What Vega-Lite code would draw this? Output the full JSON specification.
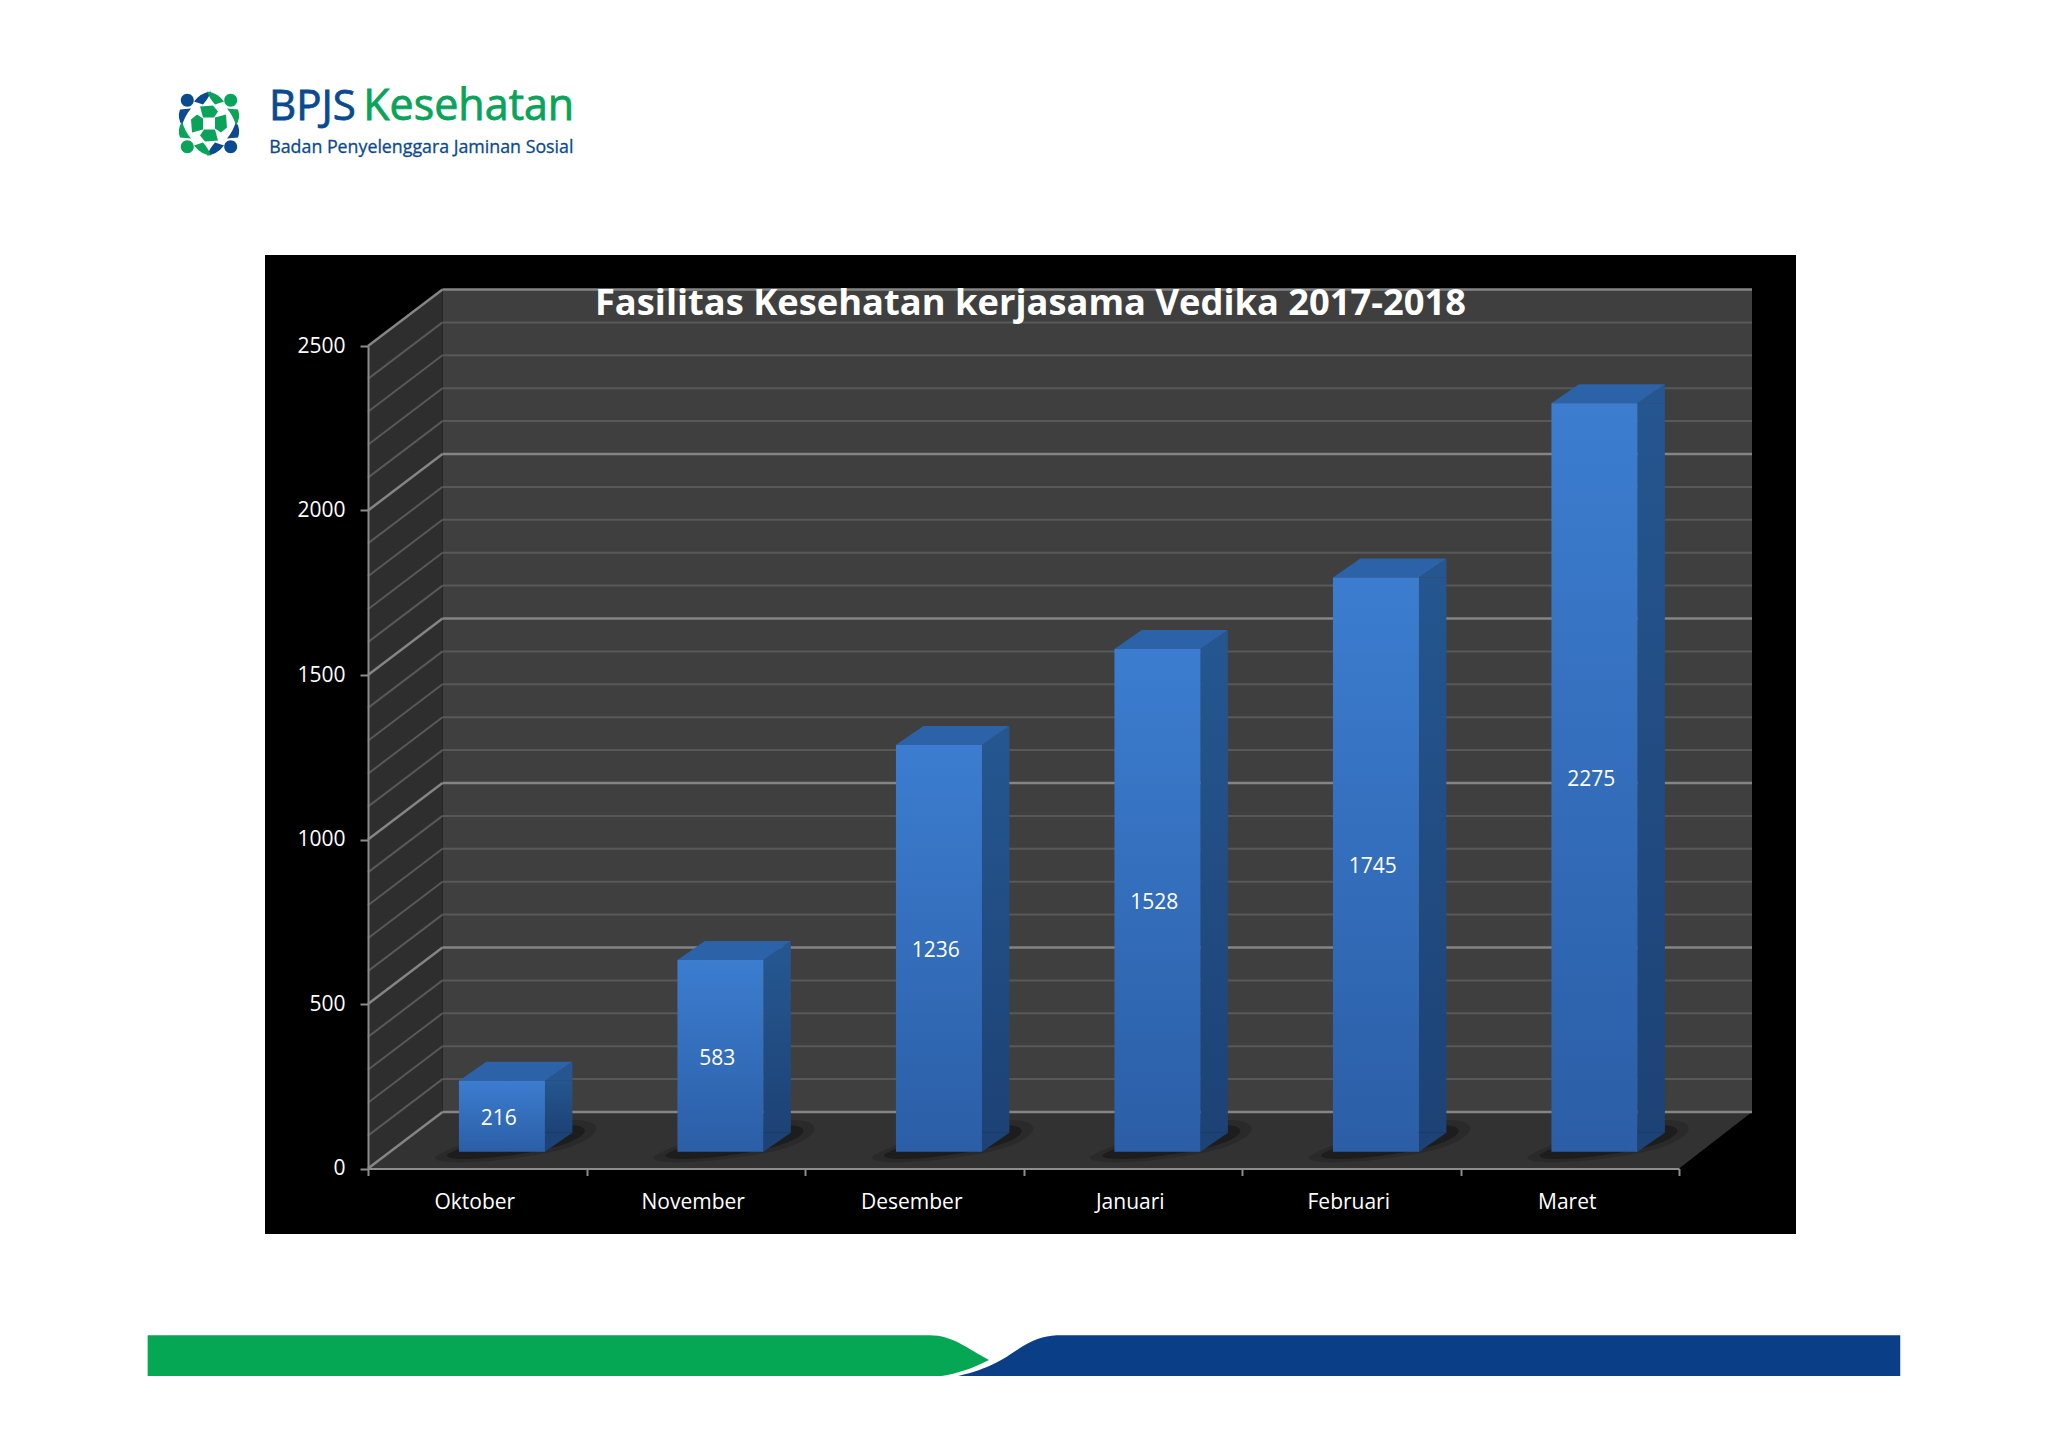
{
  "$schema": "https://vega.github.io/schema/vega-lite/v6.json",
  "autosize": {"type": "none"},
  "width": 1531,
  "height": 979,
  "padding": {"left": 265, "top": 255, "right": 252, "bottom": 214},
  "background": "#ffffff",
  "view": {"fill": "#000000", "stroke": null},
  "title": {
    "text": "Fasilitas Kesehatan kerjasama Vedika 2017-2018",
    "anchor": "middle",
    "frame": "group",
    "orient": "top",
    "offset": -265.5,
    "baseline": "alphabetic",
    "color": "#ffffff",
    "font": "Open Sans",
    "fontWeight": "bold",
    "fontSize": 36.3,
    "zindex": 1
  },
  "datasets": {
    "bars": [
      {"bulan": "Oktober", "fasilitas": 216},
      {"bulan": "November", "fasilitas": 583},
      {"bulan": "Desember", "fasilitas": 1236},
      {"bulan": "Januari", "fasilitas": 1528},
      {"bulan": "Februari", "fasilitas": 1745},
      {"bulan": "Maret", "fasilitas": 2275}
    ],
    "alas": [
      {"bulan": "Oktober", "nilai": 0},
      {"bulan": "November", "nilai": 0},
      {"bulan": "Desember", "nilai": 0},
      {"bulan": "Januari", "nilai": 0},
      {"bulan": "Februari", "nilai": 0},
      {"bulan": "Maret", "nilai": 0}
    ],
    "anchor": [{"bulan": "Oktober", "nilai": 0}],
    "minor": [
      {"bulan": "Oktober", "nilai": 100}, {"bulan": "Oktober", "nilai": 200}, {"bulan": "Oktober", "nilai": 300}, {"bulan": "Oktober", "nilai": 400},
      {"bulan": "Oktober", "nilai": 600}, {"bulan": "Oktober", "nilai": 700}, {"bulan": "Oktober", "nilai": 800}, {"bulan": "Oktober", "nilai": 900},
      {"bulan": "Oktober", "nilai": 1100}, {"bulan": "Oktober", "nilai": 1200}, {"bulan": "Oktober", "nilai": 1300}, {"bulan": "Oktober", "nilai": 1400},
      {"bulan": "Oktober", "nilai": 1600}, {"bulan": "Oktober", "nilai": 1700}, {"bulan": "Oktober", "nilai": 1800}, {"bulan": "Oktober", "nilai": 1900},
      {"bulan": "Oktober", "nilai": 2100}, {"bulan": "Oktober", "nilai": 2200}, {"bulan": "Oktober", "nilai": 2300}, {"bulan": "Oktober", "nilai": 2400}
    ],
    "major": [
      {"bulan": "Oktober", "nilai": 0}, {"bulan": "Oktober", "nilai": 500}, {"bulan": "Oktober", "nilai": 1000},
      {"bulan": "Oktober", "nilai": 1500}, {"bulan": "Oktober", "nilai": 2000}, {"bulan": "Oktober", "nilai": 2500}
    ]
  },
  "encoding": {
    "x": {
      "field": "bulan",
      "type": "nominal",
      "sort": null,
      "title": null,
      "scale": {
        "domain": ["Oktober", "November", "Desember", "Januari", "Februari", "Maret"],
        "range": [103, 1414],
        "paddingInner": 0,
        "paddingOuter": 0
      },
      "axis": {
        "labelAngle": 0,
        "offset": -65.5,
        "tickBand": "extent",
        "tickSize": 7,
        "tickWidth": 2,
        "tickColor": "#8c8c8c",
        "domainColor": "#8c8c8c",
        "domainWidth": 2,
        "labelColor": "#ffffff",
        "labelFont": "Open Sans",
        "labelFontSize": 21,
        "labelPadding": 16,
        "labelOffset": -3,
        "grid": false,
        "zindex": 1
      }
    }
  },
  "layer": [
    {
      "encoding": {
        "y": {
          "field": "nilai",
          "type": "quantitative",
          "title": null,
          "scale": {"domain": [0, 2500], "range": [913.5, 91]},
          "axis": {
            "offset": -103,
            "values": [0, 500, 1000, 1500, 2000, 2500],
            "format": "d",
            "tickSize": 8,
            "tickWidth": 2,
            "tickColor": "#8c8c8c",
            "domainColor": "#8c8c8c",
            "domainWidth": 2,
            "labelColor": "#ffffff",
            "labelFont": "Open Sans",
            "labelFontSize": 21,
            "labelPadding": 15,
            "grid": false,
            "zindex": 1
          }
        }
      },
      "layer": [
        {
          "data": {"name": "anchor"},
          "mark": {"type": "point", "size": 4, "filled": true, "opacity": 1, "strokeWidth": 0, "fill": "#403f40", "shape": "M-34.75,-879.5H1274.75V-56.5H-34.75Z"}
        },
        {
          "data": {"name": "anchor"},
          "mark": {"type": "point", "size": 4, "filled": true, "opacity": 1, "strokeWidth": 0, "fill": "#2f2e2f", "shape": "M-109.25,0L-34.75,-56.5V-879.5L-109.25,-822.5Z"}
        },
        {
          "data": {"name": "anchor"},
          "mark": {"type": "point", "size": 4, "filled": true, "opacity": 1, "strokeWidth": 0, "fill": "#333233", "shape": "M-109.25,0H1201.75L1274.75,-56.5H-34.75Z"}
        },
        {
          "data": {"name": "minor"},
          "mark": {"type": "point", "size": 4, "filled": false, "opacity": 1, "stroke": "#585858", "strokeWidth": 2, "shape": "M-34.75,-56.5H1274.75"}
        },
        {
          "data": {"name": "minor"},
          "mark": {"type": "point", "size": 4, "filled": false, "opacity": 1, "stroke": "#585858", "strokeWidth": 2, "shape": "M-109.25,0L-34.75,-56.5"}
        },
        {
          "data": {"name": "major"},
          "mark": {"type": "point", "size": 4, "filled": false, "opacity": 1, "stroke": "#858585", "strokeWidth": 2.5, "shape": "M-34.75,-56.5H1274.75"}
        },
        {
          "data": {"name": "major"},
          "mark": {"type": "point", "size": 4, "filled": false, "opacity": 1, "stroke": "#858585", "strokeWidth": 2.5, "shape": "M-109.25,0L-34.75,-56.5"}
        },
        {
          "data": {"name": "alas"},
          "mark": {"type": "point", "size": 4, "filled": true, "opacity": 0.14, "strokeWidth": 0, "fill": "#000000", "shape": "M-42,-12C-25,-24,60,-52,105,-48C128,-45,122,-32,92,-21C50,-8,-50,0,-42,-12Z"}
        },
        {
          "data": {"name": "alas"},
          "mark": {"type": "point", "size": 4, "filled": true, "opacity": 0.3, "strokeWidth": 0, "fill": "#000000", "shape": "M-30,-14C-15,-24,60,-46,98,-43C114,-41,110,-32,86,-24C50,-12,-36,-4,-30,-14Z"}
        },
        {
          "data": {"name": "bars"},
          "mark": {
            "type": "bar", "width": 27.4, "xOffset": 81.4, "x2Offset": 81.4, "yOffset": -16.8, "y2Offset": -16.8,
            "fill": {
              "gradient": "linear", "x1": 0, "y1": 0, "x2": 0, "y2": 1,
              "stops": [{"offset": 0, "color": "#25568f"}, {"offset": 1, "color": "#1d4276"}]
            }
          },
          "encoding": {
            "y": {"field": "fasilitas", "type": "quantitative"},
            "y2": {"datum": 57.75}
          }
        },
        {
          "data": {"name": "bars"},
          "mark": {"type": "point", "size": 4, "filled": true, "opacity": 1, "strokeWidth": 0, "xOffset": 24.7, "yOffset": -16.8, "fill": "#25568f", "shape": "M43,0L70.4,-19V0Z"},
          "encoding": {"y": {"field": "fasilitas", "type": "quantitative"}}
        },
        {
          "data": {"name": "alas"},
          "mark": {"type": "point", "size": 4, "filled": true, "opacity": 1, "strokeWidth": 0, "xOffset": 24.7, "yOffset": -16.8, "fill": "#1d4276", "shape": "M43,0L70.4,-19H43Z"}
        },
        {
          "data": {"name": "bars"},
          "mark": {"type": "point", "size": 4, "filled": true, "opacity": 1, "strokeWidth": 0, "xOffset": 24.7, "yOffset": -16.8, "fill": "#2c62a8", "shape": "M-43,0H43L70.4,-19H-15.6Z"},
          "encoding": {"y": {"field": "fasilitas", "type": "quantitative"}}
        },
        {
          "data": {"name": "bars"},
          "mark": {
            "type": "bar", "width": 86, "xOffset": 24.7, "x2Offset": 24.7, "yOffset": -16.8, "y2Offset": -16.8,
            "fill": {
              "gradient": "linear", "x1": 0, "y1": 0, "x2": 0, "y2": 1,
              "stops": [{"offset": 0, "color": "#3c7dd0"}, {"offset": 1, "color": "#2b5ea6"}]
            }
          },
          "encoding": {"y": {"field": "fasilitas", "type": "quantitative"}}
        },
        {
          "data": {"name": "anchor"},
          "mark": {"type": "point", "size": 4, "filled": true, "opacity": 1, "strokeWidth": 0, "fill": "#05a654", "shape": "M-329.6,166.8H452.75C475,166.8,490,180,511.75,191.5C495,200,480,205,464.45,207.5H-329.6Z"}
        },
        {
          "data": {"name": "anchor"},
          "mark": {"type": "point", "size": 4, "filled": true, "opacity": 1, "strokeWidth": 0, "fill": "#0a3f87", "shape": "M481.05,207.5C515,200,530,188,545,178C560,169,570,166.8,585,166.8H1423V207.5Z"}
        },
        {
          "data": {"name": "anchor"},
          "mark": {"type": "point", "size": 4, "filled": true, "opacity": 1, "strokeWidth": 0, "xOffset": -268.25, "yOffset": -1045, "fill": "#0b4a8f", "shape": "M-15,-22Q-8,-31,2,-32Q0,-26,-6,-19ZM-29,-14L-18,-15Q-24,-8,-27,2Q-32,-6,-29,-14ZM15,22Q8,31,-2,32Q0,26,6,19ZM29,14L18,15Q24,8,27,-2Q32,6,29,14ZM-28.2,-23.3A6.5,6.5,0,1,0,-15.2,-23.3A6.5,6.5,0,1,0,-28.2,-23.3ZM15.2,23.3A6.5,6.5,0,1,0,28.2,23.3A6.5,6.5,0,1,0,15.2,23.3Z"}
        },
        {
          "data": {"name": "anchor"},
          "mark": {"type": "point", "size": 4, "filled": true, "opacity": 1, "strokeWidth": 0, "xOffset": -268.25, "yOffset": -1045, "fill": "#0aa35a", "shape": "M15,-22Q8,-31,-2,-32Q0,-26,6,-19ZM29,-14L18,-15Q24,-8,27,2Q32,-6,29,-14ZM-15,22Q-8,31,2,32Q0,26,-6,19ZM-29,14L-18,15Q-24,8,-27,-2Q-32,6,-29,14ZM15.2,-23.3A6.5,6.5,0,1,0,28.2,-23.3A6.5,6.5,0,1,0,15.2,-23.3ZM-28.2,23.3A6.5,6.5,0,1,0,-15.2,23.3A6.5,6.5,0,1,0,-28.2,23.3ZM-9,-17L4,-18L9,-12L5,-6L-6,-6ZM17,-9L18,4L12,9L6,5L6,-6ZM9,17L-4,18L-9,12L-5,6L6,6ZM-17,9L-18,-4L-12,-9L-6,-5L-6,6Z"}
        },
        {
          "data": {"name": "anchor"},
          "mark": {"type": "text", "text": "BPJS", "align": "left", "baseline": "alphabetic", "font": "Open Sans", "fontSize": 42, "fill": "#0b4a8f", "stroke": "#0b4a8f", "strokeWidth": 0.8, "xOffset": -208.25, "yOffset": -1048.5}
        },
        {
          "data": {"name": "anchor"},
          "mark": {"type": "text", "text": "Kesehatan", "align": "left", "baseline": "alphabetic", "font": "Open Sans", "fontSize": 43, "fill": "#0aa35a", "stroke": "#0aa35a", "strokeWidth": 0.8, "xOffset": -114, "yOffset": -1048.5}
        },
        {
          "data": {"name": "anchor"},
          "mark": {"type": "text", "text": "Badan Penyelenggara Jaminan Sosial", "align": "left", "baseline": "alphabetic", "font": "Open Sans", "fontSize": 17.8, "fill": "#0b4a8f", "stroke": "#0b4a8f", "strokeWidth": 0.3, "xOffset": -208, "yOffset": -1015.2}
        }
      ]
    },
    {
      "data": {"name": "bars"},
      "mark": {"type": "text", "font": "Open Sans", "fontSize": 21, "fill": "#ffffff", "align": "center", "baseline": "middle", "xOffset": 21.5, "yOffset": -14},
      "encoding": {
        "y": {
          "field": "fasilitas",
          "type": "quantitative",
          "scale": {"domain": [0, 5000], "range": [913.5, 91]},
          "axis": null
        },
        "text": {"field": "fasilitas", "type": "quantitative"}
      }
    }
  ],
  "resolve": {"scale": {"y": "independent"}}
}
